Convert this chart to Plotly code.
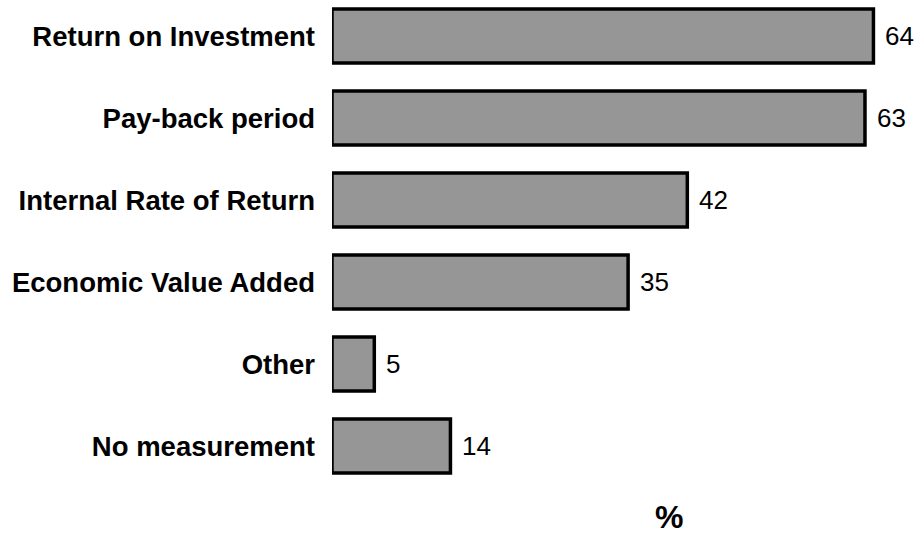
import plotly.graph_objects as go

categories = ["Return on Investment", "Pay-back period", "Internal Rate of Return",
              "Economic Value Added", "Other", "No measurement"]
values = [64, 63, 42, 35, 5, 14]
axis_title = "%"

fig = go.Figure()
fig.add_trace(go.Bar(
    x=values, y=categories, orientation="h",
    width=0.66,
    marker=dict(color="#969696", line=dict(color="#000000", width=3.5)),
    hoverinfo="skip",
))

for c, v in zip(categories, values):
    fig.add_annotation(x=v, y=c, text=str(v), showarrow=False,
                       xanchor="left", yanchor="middle", xshift=10,
                       font=dict(family="Liberation Sans, Arial, sans-serif", size=26, color="#000"))

fig.add_annotation(x=(669 - 332) / 586, y=-0.062, xref="paper", yref="paper",
                   text="<b>" + axis_title + "</b>", showarrow=False,
                   xanchor="center", yanchor="middle",
                   font=dict(family="Liberation Sans, Arial, sans-serif", size=32, color="#000"))

fig.update_layout(
    width=918, height=539,
    margin=dict(l=332, r=0, t=0, b=52),
    paper_bgcolor="white", plot_bgcolor="white",
    showlegend=False,
    xaxis=dict(range=[0, 586 / 8.46], visible=False, fixedrange=True),
    yaxis=dict(categoryorder="array", categoryarray=categories,
               range=[5.5, -0.439], showgrid=False, zeroline=False, showline=False,
               ticks="", ticklabelstandoff=16,
               tickfont=dict(family="Liberation Sans, Arial, sans-serif", size=27.5, color="#000", weight="bold"),
               fixedrange=True),
)

fig.write_html("out.html", config={"displayModeBar": False},
               post_script="document.body.style.margin='0px';document.body.style.overflow='hidden';")
